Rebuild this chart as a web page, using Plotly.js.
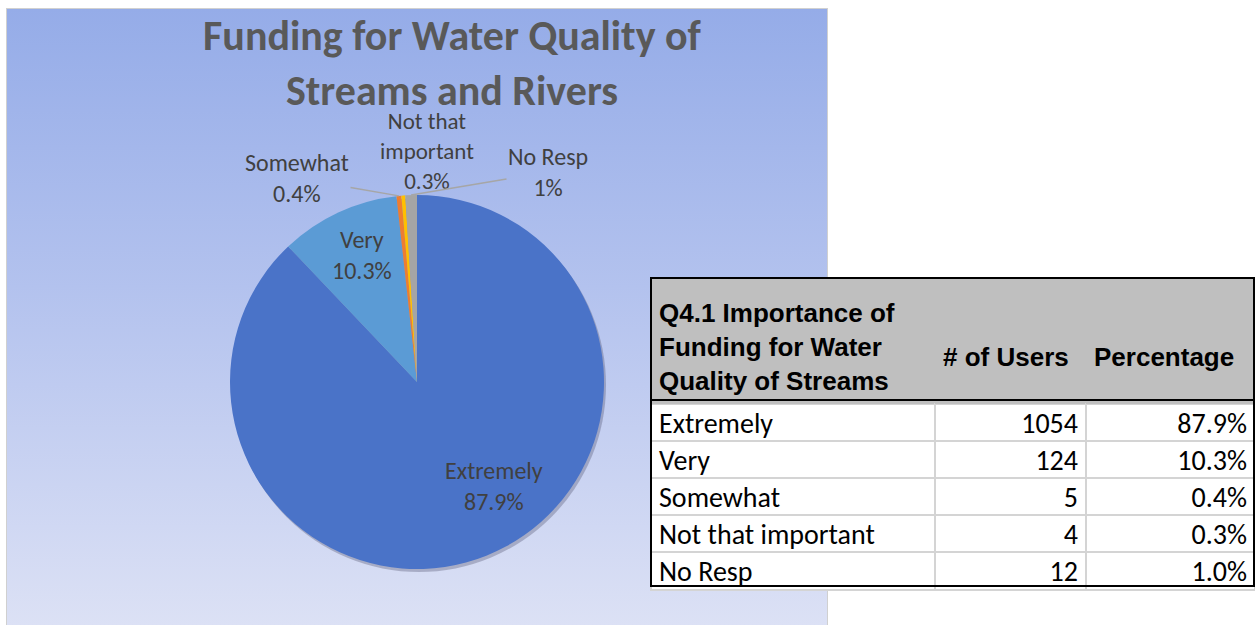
<!DOCTYPE html>
<html>
<head>
<meta charset="utf-8">
<script src="https://cdn.plot.ly/plotly-3.0.1.min.js"></script>
<style>
  html, body { margin: 0; padding: 0; background: #ffffff; }
  #wrap { position: relative; width: 1255px; height: 625px; }
  #panel { position: absolute; left: 6px; top: 8px; width: 820px; height: 617px;
           border: 1px solid #D0D0D0; border-bottom: none;
           background: linear-gradient(to bottom, #95ACE8 0%, #B3C2EE 45%, #DCE1F5 100%); }
  #chart { position: absolute; left: 0; top: 0; width: 1255px; height: 625px; }
</style>
</head>
<body>
<div id="wrap">
  <div id="panel"></div>
  <div id="chart"></div>
</div>
<script>
// ---- data ----
const categories = ["Extremely", "Very", "Somewhat", "Not that important", "No Resp"];
const users = [1054, 124, 5, 4, 12];
const sliceColors = ["#4A73C8", "#5B9BD5", "#ED7D31", "#FFC000", "#A5A5A5"];
const tableTitle = "Q4.1 Importance of<br>Funding for Water<br>Quality of Streams";
const colUsers = "# of Users";
const colPct = "Percentage";
const chartTitle = "Funding for Water Quality of<br>Streams and Rivers";
const pieLabelText = ["Extremely", "Very", "Somewhat", "Not that<br>important", "No Resp"];

// ---- derived ----
const W = 1255, H = 625;
const total = users.reduce((a, b) => a + b, 0);
const pctVal = users.map(v => v / total * 100);
const pctTable = pctVal.map(p => p.toFixed(1) + "%");
const pctPie = pctVal.map(p => (Math.round(p * 10) / 10).toString() + "%");

const labelFont = "Carlito, Lato, 'Open Sans', sans-serif";
const pieDomX = [230 / W, 604 / W];
const pieDomY = [1 - 569 / H, 1 - 195 / H];
const cx = (pieDomX[0] + pieDomX[1]) / 2 * W;
const cy = (1 - (pieDomY[0] + pieDomY[1]) / 2) * H;
const R = (pieDomX[1] - pieDomX[0]) * W / 2;

let cum = 0;
const midAng = users.map(v => { const a = (cum + v / 2) / total * 360; cum += v; return a; });
function edge(i) {
  const a = midAng[i] * Math.PI / 180;
  return [cx + R * Math.sin(a), cy - R * Math.cos(a)];
}
function px(x) { return x / W; }
function py(y) { return 1 - y / H; }

const pie = {
  type: "pie",
  labels: categories,
  values: users,
  sort: false,
  direction: "clockwise",
  rotation: 0,
  domain: { x: pieDomX, y: pieDomY },
  marker: { colors: sliceColors, line: { width: 0 } },
  textinfo: "none",
  hoverinfo: "label+value+percent",
  showlegend: false
};

const shadow = {
  type: "pie",
  values: [total],
  sort: false,
  domain: { x: [pieDomX[0] + 2 / W, pieDomX[1] + 2 / W], y: [pieDomY[0] - 3 / H, pieDomY[1] - 3 / H] },
  marker: { colors: ["rgba(50,50,80,0.28)"], line: { width: 0 } },
  textinfo: "none",
  hoverinfo: "skip",
  showlegend: false
};

const tableX0 = 651, tableY0 = 278, headerPadTop = 12, headerH = 122, rowH = 37.2;
const table = {
  type: "table",
  domain: { x: [tableX0 / W, 1], y: [0, py(tableY0 + headerPadTop)] },
  columnwidth: [284, 151, 169],
  header: {
    values: [tableTitle, "<br><br>" + colUsers, "<br><br>" + colPct],
    align: ["left", "left", "left"],
    height: headerH - headerPadTop,
    fill: { color: "#BFBFBF" },
    line: { color: "#BFBFBF", width: 1 },
    font: { family: "'Liberation Sans', Arial, sans-serif", size: 26, color: "#000000", weight: "bold" }
  },
  cells: {
    values: [categories, users.map(String), pctTable],
    align: ["left", "right", "right"],
    height: rowH,
    fill: { color: "#FFFFFF" },
    line: { color: "#D4D4D4", width: 2 },
    font: { family: labelFont, size: 28, color: "#000000" }
  }
};

const tableBottom = tableY0 + headerH + rowH * categories.length;

const shapes = [
  { type: "rect", xref: "paper", yref: "paper", x0: px(tableX0), x1: px(W - 1), y0: py(tableY0), y1: py(tableY0 + headerPadTop + 1),
    line: { width: 0 }, fillcolor: "#BFBFBF" },
  { type: "rect", xref: "paper", yref: "paper", x0: px(tableX0), x1: px(W - 1), y0: py(tableY0), y1: py(tableBottom),
    line: { color: "#000000", width: 2 }, fillcolor: "rgba(0,0,0,0)" },
  { type: "line", xref: "paper", yref: "paper", x0: px(tableX0), x1: px(W - 1), y0: py(tableY0 + headerH), y1: py(tableY0 + headerH),
    line: { color: "#000000", width: 2 } }
];

const eSome = edge(2), eNo = edge(4);
const annFont = { family: labelFont, size: 24, color: "#404040" };
function lbl(i) { return pieLabelText[i] + "<br>" + pctPie[i]; }
const annotations = [
  { xref: "paper", yref: "paper", x: px(494), y: py(486), text: lbl(0), showarrow: false,
    xanchor: "center", yanchor: "middle", font: annFont, align: "center" },
  { xref: "paper", yref: "paper", x: px(362), y: py(255), text: lbl(1), showarrow: false,
    xanchor: "center", yanchor: "middle", font: annFont, align: "center" },
  { xref: "paper", yref: "paper", x: px(eSome[0]), y: py(eSome[1]), text: lbl(2),
    showarrow: true, arrowhead: 0, arrowwidth: 1.5, arrowcolor: "#A6A6A6", ax: 297 - eSome[0], ay: 178 - eSome[1],
    font: annFont, align: "center" },
  { xref: "paper", yref: "paper", x: px(427), y: py(151), text: lbl(3), showarrow: false,
    xanchor: "center", yanchor: "middle", font: { family: labelFont, size: 23, color: "#404040" }, align: "center" },
  { xref: "paper", yref: "paper", x: px(eNo[0]), y: py(eNo[1]), text: lbl(4),
    showarrow: true, arrowhead: 0, arrowwidth: 1.5, arrowcolor: "#A6A6A6", ax: 548 - eNo[0], ay: 172 - eNo[1],
    font: annFont, align: "center" }
];

const layout = {
  width: W, height: H,
  margin: { l: 0, r: 0, t: 0, b: 0 },
  paper_bgcolor: "rgba(0,0,0,0)",
  plot_bgcolor: "rgba(0,0,0,0)",
  title: { text: chartTitle, x: 452 / W, xanchor: "center", y: 1 - 50 / H, yanchor: "middle",
           font: { family: "Carlito, Lato, 'Open Sans', sans-serif", size: 42, color: "#595959", weight: "bold" } },
  shapes: shapes,
  annotations: annotations,
  showlegend: false
};

Plotly.newPlot("chart", [shadow, pie, table], layout, { displayModeBar: false, staticPlot: true });
</script>
</body>
</html>
